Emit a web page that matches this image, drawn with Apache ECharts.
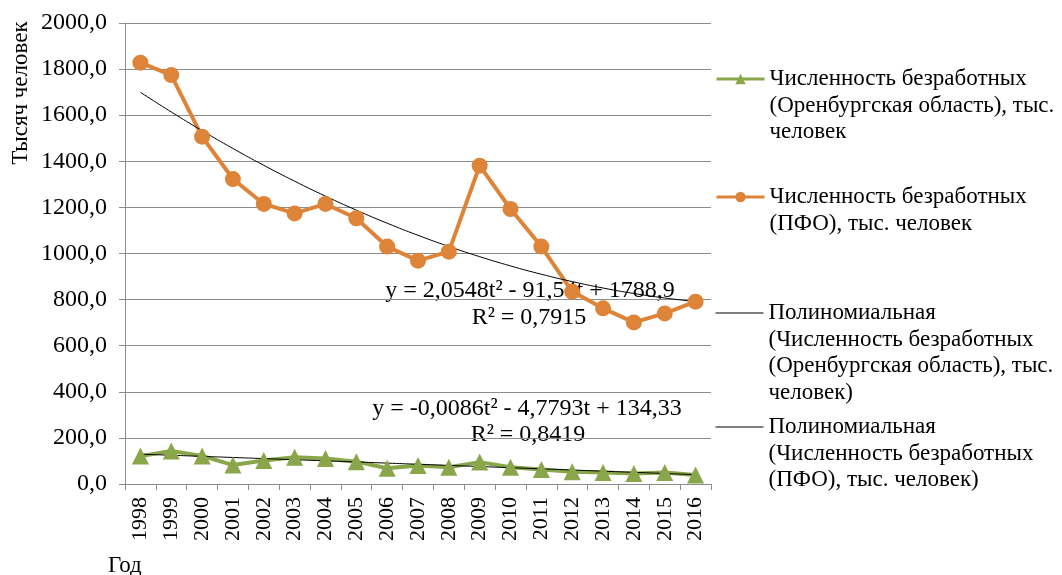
<!DOCTYPE html>
<html>
<head>
<meta charset="utf-8">
<script src="https://cdn.jsdelivr.net/npm/echarts@6/dist/echarts.min.js"></script>
<style>
  html, body { margin: 0; padding: 0; background: #fff; }
  #main { width: 1062px; height: 575px; }
</style>
</head>
<body>
<div id="main"></div>
<script>
// годы
var years = ['1998', '1999', '2000', '2001', '2002', '2003', '2004', '2005', '2006', '2007',
             '2008', '2009', '2010', '2011', '2012', '2013', '2014', '2015', '2016'];

// Численность безработных (Оренбургская область), тыс. человек
var orenburg = [121, 143, 122, 82, 102, 116, 111, 97, 68, 80, 73, 95, 73, 63, 53, 50, 46, 50, 39];

// Численность безработных (ПФО), тыс. человек
var pfo = [1828, 1774, 1507, 1323, 1215, 1174, 1215, 1153, 1030, 969, 1008, 1381, 1193, 1030, 835, 762, 701, 740, 791];

// коэффициенты полиномиальных трендов (a*t^2 + b*t + c), как на рисунке
var orenburgTrendCoef = [-0.0086, -4.7793, 134.33];
var pfoTrendCoef = [2.0548, -91.54, 1788.9];

var yTicks = [0, 200, 400, 600, 800, 1000, 1200, 1400, 1600, 1800, 2000];

var legendTexts = [
    ['Численность безработных', '(Оренбургская область), тыс.', 'человек'],
    ['Численность безработных', '(ПФО), тыс. человек'],
    ['Полиномиальная', '(Численность безработных', '(Оренбургская область), тыс.', 'человек)'],
    ['Полиномиальная', '(Численность безработных', '(ПФО), тыс. человек)']
];
var names = legendTexts.map(function (l) { return l.join('\n'); });

function trend(coef) {
    return years.map(function (y, i) {
        var t = i + 1;
        return coef[0] * t * t + coef[1] * t + coef[2];
    });
}

var FONT = "'Liberation Serif', 'Times New Roman', serif";
var LH = 26.5;

// иконка легенды стоит по центру текста, поэтому сверху добавляются пустые строки,
// чтобы она пришлась на первую строку
function legendFor(idx, anchorY, isTrend) {
    var n = legendTexts[idx].length;
    var lg = {
        left: 715,
        top: anchorY - (2 * n - 1) * LH / 2,
        padding: 0,
        orient: 'vertical',
        itemWidth: 48,
        itemHeight: 13,
        selectedMode: false,
        data: [{ name: names[idx] }],
        formatter: function (name) {
            return new Array(n).join('\n') + name;
        },
        lineStyle: { width: isTrend ? 1 : 3 },
        textStyle: {
            fontFamily: FONT,
            fontSize: 23,
            color: '#000',
            lineHeight: LH
        }
    };
    if (isTrend) {
        lg.itemStyle = { opacity: 0 };
    }
    return lg;
}

var myChart = echarts.init(document.getElementById('main'));

var option = {
    animation: false,
    backgroundColor: '#fff',
    grid: { left: 125, right: 351, top: 23, bottom: 91 },
    legend: [
        legendFor(0, 79, false),
        legendFor(1, 197, false),
        legendFor(2, 313, true),
        legendFor(3, 427, true)
    ],
    xAxis: {
        type: 'category',
        data: years,
        boundaryGap: true,
        axisLine: { lineStyle: { color: '#8c8c8c', width: 1 } },
        axisTick: { show: true, length: 6, lineStyle: { color: '#8c8c8c' } },
        axisLabel: {
            rotate: 90,
            interval: 0,
            margin: 13,
            fontFamily: FONT,
            fontSize: 22,
            color: '#000'
        }
    },
    yAxis: {
        type: 'value',
        min: yTicks[0],
        max: yTicks[yTicks.length - 1],
        interval: 200,
        axisLine: { show: true, lineStyle: { color: '#8c8c8c', width: 1 } },
        axisTick: { show: true, length: 6, lineStyle: { color: '#8c8c8c' } },
        splitLine: { lineStyle: { color: '#8c8c8c', width: 1 } },
        axisLabel: {
            margin: 18,
            fontFamily: FONT,
            fontSize: 24,
            color: '#000',
            formatter: function (v) { return v.toFixed(1).replace('.', ','); }
        }
    },
    graphic: [
        {
            type: 'text', x: 21, y: 93, rotation: Math.PI / 2,
            style: { text: 'Тысяч человек', font: '23px ' + FONT, fill: '#000', align: 'center', verticalAlign: 'middle' }
        },
        {
            type: 'text', x: 108, y: 566,
            style: { text: 'Год', font: '23px ' + FONT, fill: '#000', align: 'left', verticalAlign: 'middle' }
        },
        {
            type: 'text', x: 530, y: 291,
            style: { text: 'y = 2,0548t² - 91,54t + 1788,9', font: '24px ' + FONT, fill: '#000', align: 'center', verticalAlign: 'middle' }
        },
        {
            type: 'text', x: 529, y: 318,
            style: { text: 'R² = 0,7915', font: '24px ' + FONT, fill: '#000', align: 'center', verticalAlign: 'middle' }
        },
        {
            type: 'text', x: 527, y: 409,
            style: { text: 'y = -0,0086t² - 4,7793t + 134,33', font: '24px ' + FONT, fill: '#000', align: 'center', verticalAlign: 'middle' }
        },
        {
            type: 'text', x: 528, y: 435,
            style: { text: 'R² = 0,8419', font: '24px ' + FONT, fill: '#000', align: 'center', verticalAlign: 'middle' }
        }
    ],
    series: [
        {
            name: names[0],
            type: 'line',
            data: orenburg,
            symbol: 'triangle',
            symbolSize: 17,
            itemStyle: { color: '#8aa64a' },
            lineStyle: { color: '#8aa64a', width: 4 }
        },
        {
            name: names[1],
            type: 'line',
            data: pfo,
            symbol: 'circle',
            symbolSize: 16,
            itemStyle: { color: '#de8439' },
            lineStyle: { color: '#de8439', width: 4 }
        },
        {
            name: names[2],
            type: 'line',
            data: trend(orenburgTrendCoef),
            symbol: 'none',
            smooth: true,
            itemStyle: { color: '#000' },
            lineStyle: { color: '#000', width: 1 }
        },
        {
            name: names[3],
            type: 'line',
            data: trend(pfoTrendCoef),
            symbol: 'none',
            smooth: true,
            itemStyle: { color: '#000' },
            lineStyle: { color: '#000', width: 1 }
        }
    ]
};

myChart.setOption(option);
</script>
</body>
</html>
